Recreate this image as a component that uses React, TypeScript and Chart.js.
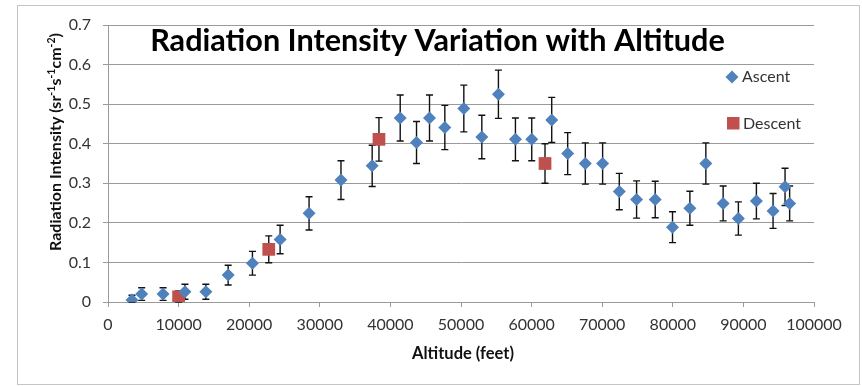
import React, { useEffect, useRef } from "react";
import { Chart, registerables } from "chart.js";

Chart.register(...registerables);

const ascentAltitude = [3400, 4770, 7800, 10900, 13860, 17020, 20460, 24380, 28480, 33000, 37420, 41390, 43700, 45540, 47710, 50400, 52950, 55300, 57710, 60020, 62850, 65110, 67610, 70060, 72420, 74870, 77510, 79960, 82420, 84680, 87130, 89290, 91840, 94200, 95900, 96550];
const ascentIntensity = [0.005, 0.02, 0.02, 0.026, 0.026, 0.068, 0.098, 0.158, 0.224, 0.308, 0.344, 0.465, 0.403, 0.465, 0.441, 0.489, 0.417, 0.525, 0.411, 0.411, 0.46, 0.375, 0.35, 0.35, 0.279, 0.259, 0.259, 0.189, 0.237, 0.35, 0.249, 0.211, 0.255, 0.23, 0.291, 0.249];
const ascentError = [0.012, 0.016, 0.016, 0.019, 0.019, 0.025, 0.03, 0.036, 0.042, 0.049, 0.052, 0.058, 0.053, 0.058, 0.056, 0.059, 0.055, 0.061, 0.054, 0.054, 0.057, 0.053, 0.052, 0.052, 0.046, 0.047, 0.046, 0.039, 0.043, 0.052, 0.044, 0.042, 0.045, 0.044, 0.047, 0.044];

const descentAltitude = [10000, 22770, 38380, 61900];
const descentIntensity = [0.013, 0.133, 0.411, 0.35];
const descentError = [0.015, 0.034, 0.055, 0.05];

const seriesNames = ["Ascent", "Descent"];
const chartTitle = "Radiation Intensity Variation with Altitude";
const xTitle = "Altitude (feet)";
const yTitleParts: { t: string; sup: boolean }[] = [
  { t: "Radiation Intensity (sr", sup: false },
  { t: "-1", sup: true },
  { t: "s", sup: false },
  { t: "-1", sup: true },
  { t: "cm", sup: false },
  { t: "-2", sup: true },
  { t: ")", sup: false },
];
const errorSets = [ascentError, descentError];

const BLUE = "#4F81BD";
const RED = "#C0504D";
const FONT = "Lato, 'Open Sans', sans-serif";
const GRID = "#9a9a9a";
const TEXT = "#333333";

const decorPlugin = {
  id: "decor",
  beforeDraw(chart: any) {
    const ctx = chart.ctx;
    ctx.save();
    ctx.fillStyle = "#ffffff";
    ctx.fillRect(0, 0, chart.width, chart.height);
    ctx.strokeStyle = "#c4c4c4";
    ctx.lineWidth = 1;
    ctx.strokeRect(17.5, 5.5, 842, 379);
    ctx.restore();
  },
  beforeDatasetsDraw(chart: any) {
    const ctx = chart.ctx;
    const xs = chart.scales.x;
    const ys = chart.scales.y;
    ctx.save();
    ctx.strokeStyle = "#111111";
    ctx.lineWidth = 1.4;
    chart.data.datasets.forEach((ds: any, di: number) => {
      const errs = errorSets[di];
      ds.data.forEach((p: any, i: number) => {
        const e = errs[i];
        const px = xs.getPixelForValue(p.x);
        const top = ys.getPixelForValue(p.y + e);
        const bot = ys.getPixelForValue(Math.max(0, p.y - e));
        ctx.beginPath();
        ctx.moveTo(px, top);
        ctx.lineTo(px, bot);
        ctx.moveTo(px - 3.5, top);
        ctx.lineTo(px + 3.5, top);
        ctx.moveTo(px - 3.5, bot);
        ctx.lineTo(px + 3.5, bot);
        ctx.stroke();
      });
    });
    ctx.restore();
  },
  afterDraw(chart: any) {
    const ctx = chart.ctx;
    ctx.save();
    // Title
    let size = 28;
    ctx.font = `bold ${size}px ${FONT}`;
    const w = ctx.measureText(chartTitle).width;
    size = (size * 575) / w;
    ctx.font = `bold ${size}px ${FONT}`;
    ctx.fillStyle = "#000000";
    ctx.textAlign = "center";
    ctx.textBaseline = "alphabetic";
    ctx.fillText(chartTitle, 437.5, 51);

    // Legend
    ctx.fillStyle = BLUE;
    ctx.beginPath();
    ctx.moveTo(732 - 6.5, 77);
    ctx.lineTo(732, 77 - 6.5);
    ctx.lineTo(732 + 6.5, 77);
    ctx.lineTo(732, 77 + 6.5);
    ctx.closePath();
    ctx.fill();
    ctx.fillStyle = RED;
    ctx.fillRect(727, 117, 12.5, 12.5);
    ctx.fillStyle = TEXT;
    ctx.font = `16px ${FONT}`;
    ctx.textAlign = "left";
    ctx.textBaseline = "middle";
    ctx.fillText(seriesNames[0], 742, 77);
    ctx.fillText(seriesNames[1], 743, 123.5);

    // X title
    ctx.font = `bold 16.5px ${FONT}`;
    ctx.textAlign = "center";
    ctx.fillStyle = "#111111";
    ctx.fillText(xTitle, 463, 354);

    // Y title with superscripts
    const normal = `bold 16px ${FONT}`;
    const sup = `bold 10.5px ${FONT}`;
    let total = 0;
    yTitleParts.forEach((p) => {
      ctx.font = p.sup ? sup : normal;
      total += ctx.measureText(p.t).width;
    });
    ctx.translate(55, 142);
    ctx.rotate(-Math.PI / 2);
    ctx.textAlign = "left";
    ctx.textBaseline = "alphabetic";
    let cx = -total / 2;
    yTitleParts.forEach((p) => {
      ctx.font = p.sup ? sup : normal;
      ctx.fillText(p.t, cx, p.sup ? 0 : 6);
      cx += ctx.measureText(p.t).width;
    });
    ctx.restore();
  },
};

export default function App() {
  const ref = useRef<HTMLCanvasElement | null>(null);
  useEffect(() => {
    if (!ref.current) return;
    const chart = new Chart(ref.current, {
      type: "scatter",
      data: {
        datasets: [
          {
            label: seriesNames[0],
            data: ascentAltitude.map((x, i) => ({ x, y: ascentIntensity[i] })),
            backgroundColor: BLUE,
            borderColor: BLUE,
            borderWidth: 0,
            pointStyle: "rectRot",
            pointRadius: 6.5,
            pointHoverRadius: 6.5,
          },
          {
            label: seriesNames[1],
            data: descentAltitude.map((x, i) => ({ x, y: descentIntensity[i] })),
            backgroundColor: RED,
            borderColor: RED,
            borderWidth: 0,
            pointStyle: "rect",
            pointRadius: 9,
            pointHoverRadius: 9,
          },
        ],
      },
      options: {
        animation: false,
        responsive: false,
        events: [],
        layout: { padding: { left: 20, right: 48, top: 25, bottom: 0 } },
        plugins: {
          legend: { display: false },
          title: { display: false },
          tooltip: { enabled: false },
        },
        scales: {
          x: {
            type: "linear",
            min: 0,
            max: 100000,
            afterFit: (s: any) => {
              s.height = 84;
            },
            ticks: {
              stepSize: 10000,
              padding: 8,
              color: TEXT,
              font: { family: FONT, size: 16 },
              maxRotation: 0,
              autoSkip: false,
              callback: (v: any) => String(v),
            },
            grid: { drawOnChartArea: false, color: GRID, tickLength: 5, lineWidth: 1 },
            border: { color: GRID, width: 1 },
          },
          y: {
            min: 0,
            max: 0.7,
            afterFit: (s: any) => {
              s.width = 88;
            },
            ticks: {
              stepSize: 0.1,
              padding: 12,
              color: TEXT,
              font: { family: FONT, size: 16 },
              callback: (v: any) => String(Math.round(v * 10) / 10),
            },
            grid: { color: GRID, tickLength: 5, lineWidth: 1 },
            border: { color: GRID, width: 1 },
          },
        },
      },
      plugins: [decorPlugin],
    });
    return () => chart.destroy();
  }, []);
  return (
    <div style={{ position: "fixed", left: 0, top: 0, width: 862, height: 386 }}>
      <canvas ref={ref} width={862} height={386} style={{ display: "block", width: 862, height: 386 }} />
    </div>
  );
}
